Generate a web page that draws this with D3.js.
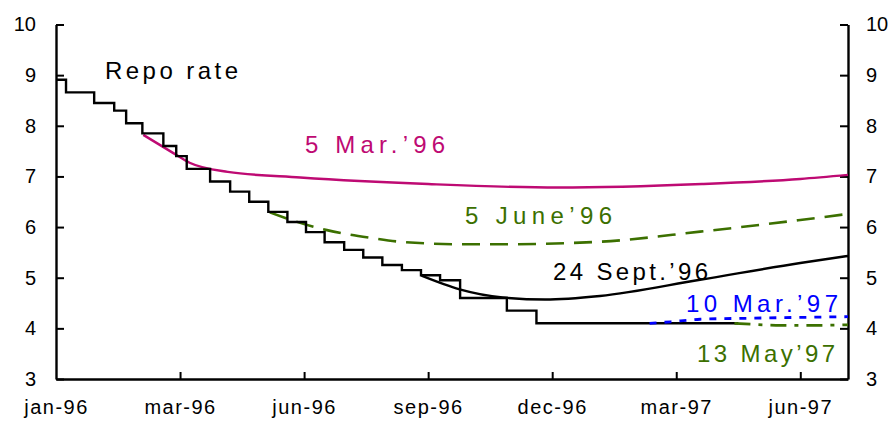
<!DOCTYPE html>
<html>
<head>
<meta charset="utf-8">
<script src="https://cdn.jsdelivr.net/npm/d3@7"></script>
<style>
  html, body { margin: 0; padding: 0; background: #fff; }
  svg { display: block; }
  text { font-family: "Liberation Sans", Arial, sans-serif; }
</style>
</head>
<body>
<script>
// ---- data (x in weeks since start of Jan 1996) ----
const xTickWeeks = [0, 13, 26, 39, 52, 65, 78];
const xTickLabels = ["jan-96", "mar-96", "jun-96", "sep-96", "dec-96", "mar-97", "jun-97"];
const yTicks = [3, 4, 5, 6, 7, 8, 9, 10];

const repoWeeks = [0, 1.05, 4, 6.1, 7.35, 9.05, 11.25, 12.6, 13.7, 16.15, 18.25, 20.25, 22.25, 24.25, 26.2, 28.15, 30.2, 32.2, 34.2, 36.25, 38.25, 40.25, 42.35, 47.25, 50.35];
const repoValues = [8.91, 8.66, 8.45, 8.30, 8.05, 7.85, 7.60, 7.40, 7.15, 6.90, 6.70, 6.50, 6.30, 6.10, 5.90, 5.70, 5.55, 5.40, 5.25, 5.15, 5.05, 4.95, 4.60, 4.35, 4.10];
const repoEndWeek = 71.5;

const mar96Weeks = [9.15, 12.3, 14.0, 18.0, 25.6, 39, 52.6, 67.7, 78, 83];
const mar96Values = [7.82, 7.46, 7.27, 7.09, 6.98, 6.85, 6.78, 6.85, 6.95, 7.03];

const jun96Weeks = [22.4, 27.1, 28.4, 32.9, 36.1, 42.7, 46.5, 57, 67.5, 78, 83];
const jun96Values = [6.29, 6.00, 5.94, 5.79, 5.71, 5.66, 5.66, 5.71, 5.91, 6.14, 6.26];

const sep96Weeks = [38.3, 42.3, 46.8, 51.25, 57, 67.5, 78, 83];
const sep96Values = [5.04, 4.77, 4.61, 4.57, 4.64, 4.96, 5.29, 5.43];

const mar97Weeks = [62.2, 64.4, 66.2, 67.5, 72.7, 83];
const mar97Values = [4.10, 4.13, 4.16, 4.18, 4.20, 4.23];

const may97Weeks = [71.1, 73, 76, 80, 83];
const may97Values = [4.10, 4.08, 4.06, 4.06, 4.07];

// ---- layout ----
const W = 892, H = 421;
const m = { left: 56, right: 44, top: 24.5, bottom: 42 };
const x = d3.scaleLinear().domain([0, 83]).range([m.left, W - m.right]);
const y = d3.scaleLinear().domain([3, 10]).range([H - m.bottom, m.top]);

const svg = d3.select("body").append("svg").attr("width", W).attr("height", H);

const zip = (xs, ys) => xs.map((d, i) => [d, ys[i]]);

// axes
const axisStyle = g => {
  g.select(".domain").attr("stroke", "#000").attr("stroke-width", 2.4);
  g.selectAll(".tick line").attr("stroke", "#000").attr("stroke-width", 2);
  g.selectAll(".tick text").attr("fill", "#000").attr("font-size", 20).attr("font-family", "Liberation Sans, Arial, sans-serif");
};

svg.append("g")
  .attr("transform", `translate(${m.left},0)`)
  .call(d3.axisLeft(y).tickValues(yTicks).tickSize(-8).tickPadding(20).tickSizeOuter(0).tickFormat(d3.format("d")))
  .call(axisStyle);

svg.append("g")
  .attr("transform", `translate(${W - m.right},0)`)
  .call(d3.axisRight(y).tickValues(yTicks).tickSize(-8).tickPadding(18).tickSizeOuter(0).tickFormat(d3.format("d")))
  .call(axisStyle);

svg.append("g")
  .attr("transform", `translate(0,${H - m.bottom})`)
  .call(d3.axisBottom(x).tickValues(xTickWeeks).tickSize(-7).tickPadding(21).tickSizeOuter(0)
    .tickFormat((d, i) => xTickLabels[i]))
  .call(axisStyle)
  .call(g => g.selectAll(".tick text").attr("letter-spacing", 1.5))
  .call(g => g.selectAll(".tick").filter(d => d === 0).select("line").remove());

// series
const smooth = d3.line().x(d => x(d[0])).y(d => y(d[1])).curve(d3.curveMonotoneX);
const step = d3.line().x(d => x(d[0])).y(d => y(d[1])).curve(d3.curveStepAfter);

svg.append("path").attr("d", smooth(zip(mar96Weeks, mar96Values)))
  .attr("fill", "none").attr("stroke", "#BE0A73").attr("stroke-width", 2.4);

svg.append("path").attr("d", smooth(zip(jun96Weeks, jun96Values)))
  .attr("fill", "none").attr("stroke", "#3C7000").attr("stroke-width", 2.6)
  .attr("stroke-dasharray", "18,10");

svg.append("path").attr("d", smooth(zip(sep96Weeks, sep96Values)))
  .attr("fill", "none").attr("stroke", "#000").attr("stroke-width", 2.4);

const repoPts = zip(repoWeeks, repoValues).concat([[repoEndWeek, repoValues[repoValues.length - 1]]]);
svg.append("path").attr("d", step(repoPts))
  .attr("fill", "none").attr("stroke", "#000").attr("stroke-width", 2.4);

svg.append("path").attr("d", smooth(zip(mar97Weeks, mar97Values)))
  .attr("fill", "none").attr("stroke", "#0000FF").attr("stroke-width", 2.8)
  .attr("stroke-dasharray", "7,8");

svg.append("path").attr("d", smooth(zip(may97Weeks, may97Values)))
  .attr("fill", "none").attr("stroke", "#3C7000").attr("stroke-width", 2.8)
  .attr("stroke-dasharray", "16,8,4,8");

// labels
const labels = [
  { t: "Repo rate", x: 105, y: 79, w: 133, c: "#000" },
  { t: "5 Mar.\u201996", x: 305, y: 153, w: 140, c: "#BE0A73" },
  { t: "5 June\u201996", x: 465, y: 224, w: 147, c: "#3C7000" },
  { t: "24 Sept.\u201996", x: 553, y: 280, w: 155, c: "#000" },
  { t: "10 Mar.\u201997", x: 686, y: 312, w: 152, c: "#0000FF" },
  { t: "13 May\u201997", x: 697, y: 362, w: 138, c: "#3C7000" }
];
svg.append("g").selectAll("text").data(labels).join("text")
  .attr("x", d => d.x).attr("y", d => d.y)
  .attr("fill", d => d.c)
  .attr("font-size", 24)
  .attr("textLength", d => d.w)
  .attr("lengthAdjust", "spacing")
  .text(d => d.t);
</script>
</body>
</html>
